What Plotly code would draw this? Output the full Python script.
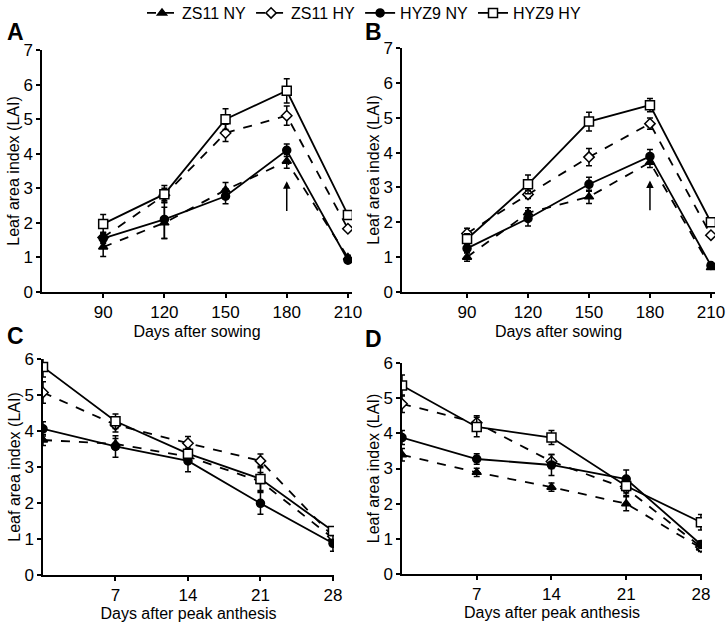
import plotly.graph_objects as go

DAYS_SOWING = [90, 120, 150, 180, 210]
DAYS_ANTHESIS = [0, 7, 14, 21, 28]
SERIES = ["ZS11 NY", "ZS11 HY", "HYZ9 NY", "HYZ9 HY"]

# panel A - LAI by days after sowing (site 1)
A_ZS11_NY = [1.3, 2.0, 2.95, 3.78, 1.0]
A_ZS11_NY_ERR = [0.27, 0.45, 0.22, 0.2, 0.06]
A_ZS11_HY = [1.58, 2.8, 4.6, 5.1, 1.83]
A_ZS11_HY_ERR = [0.15, 0.2, 0.25, 0.28, 0.05]
A_HYZ9_NY = [1.55, 2.1, 2.77, 4.1, 0.92]
A_HYZ9_NY_ERR = [0.15, 0.55, 0.22, 0.18, 0.06]
A_HYZ9_HY = [1.97, 2.83, 5.0, 5.82, 2.23]
A_HYZ9_HY_ERR = [0.27, 0.25, 0.3, 0.35, 0.05]

# panel B - LAI by days after sowing (site 2)
B_ZS11_NY = [1.0, 2.27, 2.73, 3.72, 0.7]
B_ZS11_NY_ERR = [0.12, 0.15, 0.19, 0.15, 0.05]
B_ZS11_HY = [1.68, 2.8, 3.87, 4.83, 1.63]
B_ZS11_HY_ERR = [0.15, 0.12, 0.25, 0.16, 0.04]
B_HYZ9_NY = [1.25, 2.11, 3.09, 3.89, 0.76]
B_HYZ9_NY_ERR = [0.12, 0.22, 0.2, 0.2, 0.05]
B_HYZ9_HY = [1.52, 3.09, 4.89, 5.36, 2.0]
B_HYZ9_HY_ERR = [0.15, 0.27, 0.27, 0.19, 0.05]

# panel C - LAI by days after peak anthesis (site 1)
C_ZS11_NY = [3.75, 3.64, 3.29, 2.6, 1.02]
C_ZS11_NY_ERR = [0.15, 0.15, 0.15, 0.25, 0.12]
C_ZS11_HY = [5.07, 4.17, 3.66, 3.17, 1.07]
C_ZS11_HY_ERR = [0.3, 0.2, 0.19, 0.19, 0.1]
C_HYZ9_NY = [4.06, 3.57, 3.17, 1.99, 0.88]
C_HYZ9_NY_ERR = [0.2, 0.3, 0.3, 0.3, 0.22]
C_HYZ9_HY = [5.78, 4.27, 3.37, 2.67, 1.22]
C_HYZ9_HY_ERR = [0.28, 0.2, 0.15, 0.35, 0.1]

# panel D - LAI by days after peak anthesis (site 2)
D_ZS11_NY = [3.39, 2.89, 2.47, 2.0, 0.74]
D_ZS11_NY_ERR = [0.18, 0.12, 0.12, 0.2, 0.1]
D_ZS11_HY = [4.84, 4.3, 3.2, 2.43, 0.77]
D_ZS11_HY_ERR = [0.25, 0.2, 0.2, 0.2, 0.1]
D_HYZ9_NY = [3.88, 3.27, 3.1, 2.7, 0.84]
D_HYZ9_NY_ERR = [0.2, 0.15, 0.3, 0.26, 0.1]
D_HYZ9_HY = [5.36, 4.18, 3.88, 2.5, 1.47]
D_HYZ9_HY_ERR = [0.3, 0.28, 0.2, 0.2, 0.22]

# peak anthesis arrow (days, LAI from, LAI to)
ARROW_DAY = 180
ARROW_FROM = 2.3
ARROW_TO = 3.2

W, H = 728, 624
FONT = "Liberation Sans, Arial, sans-serif"

STYLES = [
    dict(dash="dash", symbol="triangle-up", color="black", size=8),
    dict(dash="dash", symbol="diamond", color="white", size=8),
    dict(dash="solid", symbol="circle", color="black", size=8),
    dict(dash="solid", symbol="square", color="white", size=9),
]

panels = [
    ("", DAYS_SOWING, [(A_ZS11_NY, A_ZS11_NY_ERR), (A_ZS11_HY, A_ZS11_HY_ERR),
                       (A_HYZ9_NY, A_HYZ9_NY_ERR), (A_HYZ9_HY, A_HYZ9_HY_ERR)]),
    ("2", DAYS_SOWING, [(B_ZS11_NY, B_ZS11_NY_ERR), (B_ZS11_HY, B_ZS11_HY_ERR),
                        (B_HYZ9_NY, B_HYZ9_NY_ERR), (B_HYZ9_HY, B_HYZ9_HY_ERR)]),
    ("3", DAYS_ANTHESIS, [(C_ZS11_NY, C_ZS11_NY_ERR), (C_ZS11_HY, C_ZS11_HY_ERR),
                          (C_HYZ9_NY, C_HYZ9_NY_ERR), (C_HYZ9_HY, C_HYZ9_HY_ERR)]),
    ("4", DAYS_ANTHESIS, [(D_ZS11_NY, D_ZS11_NY_ERR), (D_ZS11_HY, D_ZS11_HY_ERR),
                          (D_HYZ9_NY, D_HYZ9_NY_ERR), (D_HYZ9_HY, D_HYZ9_HY_ERR)]),
]

fig = go.Figure()
for p, (suffix, xs, series) in enumerate(panels):
    for i, (vals, err) in enumerate(series):
        st = STYLES[i]
        fig.add_trace(go.Scatter(
            x=xs, y=vals, name=SERIES[i], mode="lines+markers",
            xaxis="x" + suffix, yaxis="y" + suffix,
            showlegend=(p == 0),
            line=dict(color="black", width=1.8, dash=st["dash"]),
            marker=dict(symbol=st["symbol"], size=st["size"], color=st["color"],
                        line=dict(color="black", width=1.5)),
            error_y=dict(type="data", array=err, color="black", thickness=1.5, width=3),
        ))


def px_x(a, b):
    return [a / W, b / W]


def px_y(top, bottom):
    return [1 - bottom / H, 1 - top / H]


axis_common = dict(showline=True, linecolor="black", linewidth=1.5, ticks="outside",
                   ticklen=4, tickwidth=1.5, tickcolor="black", showgrid=False,
                   zeroline=False, automargin=False, ticklabeloverflow="allow",
                   tickfont=dict(size=17, color="black"))
title_font = dict(size=16, color="black")
ytitle = dict(text="Leaf area index (LAI)", font=title_font, standoff=0)

fig.update_layout(
    width=W, height=H,
    margin=dict(l=0, r=0, t=0, b=0, autoexpand=False),
    paper_bgcolor="white", plot_bgcolor="white",
    font=dict(family=FONT, color="black"),
    showlegend=True,
    legend=dict(orientation="h", x=0.5, xanchor="center",
                y=1 - 13 / H, yanchor="middle", font=dict(size=16), itemwidth=30,
                tracegroupgap=0),
    xaxis=dict(domain=px_x(42, 352), range=[60, 212], tickvals=DAYS_SOWING, anchor="y",
               title=dict(text="Days after sowing", font=title_font, standoff=5), **axis_common),
    yaxis=dict(domain=px_y(50, 292), range=[0, 7], dtick=1, anchor="x", title=ytitle,
               **axis_common),
    xaxis2=dict(domain=px_x(402, 715), range=[58, 212], tickvals=DAYS_SOWING, anchor="y2",
                title=dict(text="Days after sowing", font=title_font, standoff=5), **axis_common),
    yaxis2=dict(domain=px_y(48, 292), range=[0, 7], dtick=1, anchor="x2", title=ytitle,
                **axis_common),
    xaxis3=dict(domain=px_x(43, 334), range=[0, 28.1], tickvals=DAYS_ANTHESIS[1:], anchor="y3",
                title=dict(text="Days after peak anthesis", font=title_font, standoff=2), **axis_common),
    yaxis3=dict(domain=px_y(359, 575), range=[0, 6], dtick=1, anchor="x3", title=ytitle,
                **axis_common),
    xaxis4=dict(domain=px_x(402, 702), range=[0, 28.1], tickvals=DAYS_ANTHESIS[1:], anchor="y4",
                title=dict(text="Days after peak anthesis", font=title_font, standoff=2), **axis_common),
    yaxis4=dict(domain=px_y(363, 574), range=[0, 6], dtick=1, anchor="x4", title=ytitle,
                **axis_common),
)

for xr, yr in [("x", "y"), ("x2", "y2")]:
    fig.add_annotation(x=ARROW_DAY, y=ARROW_TO, ax=ARROW_DAY, ay=ARROW_FROM,
                       xref=xr, yref=yr, axref=xr, ayref=yr, text="", showarrow=True,
                       arrowhead=2, arrowsize=1, arrowwidth=1.5, arrowcolor="black")

for letter, lx, ly in [("A", 5, 32), ("B", 363, 32), ("C", 5, 336), ("D", 363, 339)]:
    fig.add_annotation(text="<b>" + letter + "</b>", xref="paper", yref="paper",
                       x=lx / W, y=1 - ly / H, xanchor="left", yanchor="middle",
                       showarrow=False, font=dict(size=23, color="black"))

# drop the default body margin so the figure fills the window exactly
fig.write_html("out.html", config={"displayModeBar": False},
               post_script="document.body.style.margin='0';document.body.style.overflow='hidden';")
